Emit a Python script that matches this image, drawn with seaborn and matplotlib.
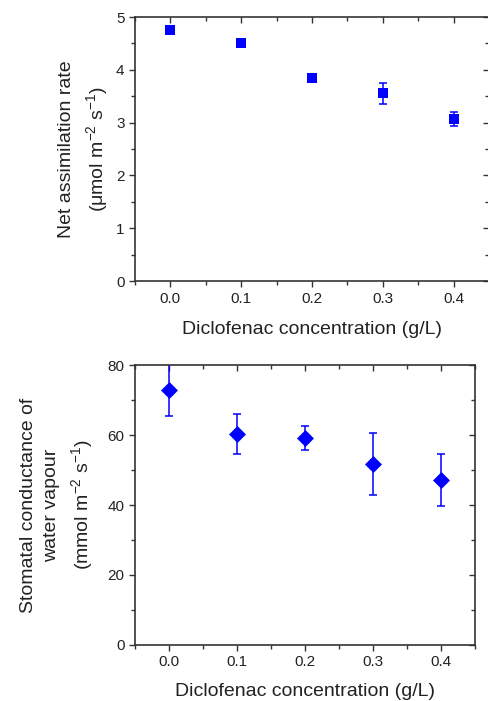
import numpy as np
import pandas as pd
import matplotlib
matplotlib.use("Agg")
import matplotlib.pyplot as plt
from matplotlib.ticker import MultipleLocator
import seaborn as sns

# values
conc = [0.0, 0.1, 0.2, 0.3, 0.4]
assim = [4.75, 4.50, 3.84, 3.56, 3.07]
assim_err = [0.03, 0.03, 0.03, 0.20, 0.13]
cond = [72.9, 60.2, 59.2, 51.7, 47.1]
cond_err = [7.5, 5.7, 3.5, 8.9, 7.4]

sns.set_theme(style="ticks")
plt.rcParams['font.family'] = ['Liberation Sans', 'DejaVu Sans']
plt.rcParams['mathtext.fontset'] = 'custom'
plt.rcParams['mathtext.rm'] = 'Liberation Sans'
txt = '#222222'
blue = '#0000ff'

df_a = pd.DataFrame({'conc': conc, 'val': assim, 'err': assim_err})
df_g = pd.DataFrame({'conc': conc, 'val': cond, 'err': cond_err})

fig = plt.figure(figsize=(4.88, 7.01), dpi=100)
ax1 = fig.add_axes([0.2766, 0.599, 0.7254, 0.3767])
ax2 = fig.add_axes([0.2766, 0.0799, 0.6968, 0.3994])


def style_axis(ax, ymax, ymajor, yminor):
    ax.set_xlim(-0.05, 0.45)
    ax.set_ylim(0, ymax)
    ax.xaxis.set_major_locator(MultipleLocator(0.1))
    ax.xaxis.set_minor_locator(MultipleLocator(0.05))
    ax.yaxis.set_major_locator(MultipleLocator(ymajor))
    ax.yaxis.set_minor_locator(MultipleLocator(yminor))
    ax.xaxis.set_major_formatter(matplotlib.ticker.FormatStrFormatter('%.1f'))
    ax.tick_params(which='both', direction='out', colors='#333333',
                   labelcolor=txt, labelsize=11, width=1)
    ax.tick_params(which='major', length=4)
    ax.tick_params(which='minor', length=3)
    for s in ax.spines.values():
        s.set_visible(True)
        s.set_color('#333333')
        s.set_linewidth(1.2)
    # mirrored ticks pointing inward on top and right
    top = ax.secondary_xaxis('top')
    top.xaxis.set_major_locator(MultipleLocator(0.1))
    top.xaxis.set_minor_locator(MultipleLocator(0.05))
    top.tick_params(which='both', direction='in', labeltop=False,
                    colors='#333333', width=1)
    top.tick_params(which='major', length=4)
    top.tick_params(which='minor', length=3)
    top.spines['top'].set_visible(False)
    right = ax.secondary_yaxis('right')
    right.yaxis.set_major_locator(MultipleLocator(ymajor))
    right.yaxis.set_minor_locator(MultipleLocator(yminor))
    right.tick_params(which='both', direction='in', labelright=False,
                      colors='#333333', width=1)
    right.tick_params(which='major', length=4)
    right.tick_params(which='minor', length=3)
    right.spines['right'].set_visible(False)


# top panel: net assimilation
ax1.errorbar(df_a['conc'], df_a['val'], yerr=df_a['err'], fmt='none',
             ecolor=blue, elinewidth=1.1, capsize=3, capthick=1.1, zorder=1)
sns.scatterplot(data=df_a, x='conc', y='val', ax=ax1, marker='s', s=60,
                color=blue, edgecolor=blue, linewidth=0, zorder=5)
style_axis(ax1, 5, 1, 0.5)
ax1.set_xlabel('Diclofenac concentration (g/L)', fontsize=14, color=txt,
               labelpad=11)
ax1.set_ylabel('Net assimilation rate\n(\u03bcmol m$^{-2}$ s$^{-1}$)',
               fontsize=14, color=txt, labelpad=4, linespacing=1.45)

# bottom panel: stomatal conductance
ax2.errorbar(df_g['conc'], df_g['val'], yerr=df_g['err'], fmt='none',
             ecolor=blue, elinewidth=1.1, capsize=2.6, capthick=1.1, zorder=1)
sns.scatterplot(data=df_g, x='conc', y='val', ax=ax2, marker='D', s=75,
                color=blue, edgecolor=blue, linewidth=0, zorder=5)
style_axis(ax2, 80, 20, 10)
ax2.set_xlabel('Diclofenac concentration (g/L)', fontsize=14, color=txt,
               labelpad=10)
ax2.set_ylabel('Stomatal conductance of\nwater vapour\n(mmol m$^{-2}$ s$^{-1}$)',
               fontsize=14, color=txt, labelpad=8, linespacing=1.5)

fig.savefig('out.png', dpi=100)
